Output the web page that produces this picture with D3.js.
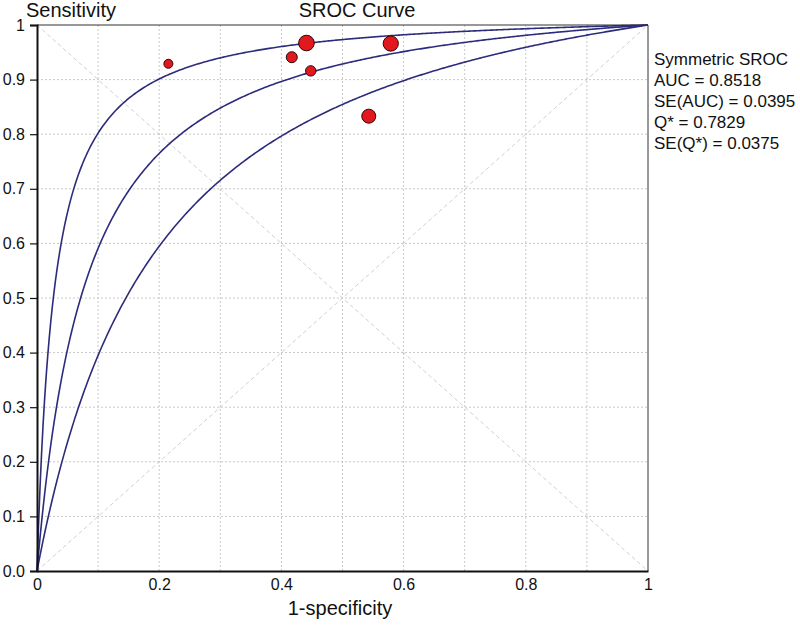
<!DOCTYPE html>
<html>
<head>
<meta charset="utf-8">
<script src="https://cdn.jsdelivr.net/npm/d3@7"></script>
<style>
  body { margin: 0; background: #fff; }
  text { font-family: "Liberation Sans", Arial, sans-serif; fill: #111; }
</style>
</head>
<body>
<div id="chart"></div>
<script>
// study points: 1-specificity, sensitivity, marker radius (study weight)
var fprVals = [0.215, 0.417, 0.441, 0.448, 0.579, 0.543];
var sensVals = [0.929, 0.941, 0.967, 0.916, 0.966, 0.833];
var weights = [4.5, 5.5, 7.8, 5.2, 7.6, 7.0];

// summary statistics printed on the right
var statLabels = ["Symmetric SROC", "AUC = 0.8518", "SE(AUC) = 0.0395", "Q* = 0.7829", "SE(Q*) = 0.0375"];
var qStar = 0.7829;
var seQ = 0.0375;
// curve levels: Q* - 2SE, Q*, Q* + 2SE
var qLevels = [qStar - 2 * seQ, qStar, qStar + 2 * seQ];

var gridTicks = [0, 0.1, 0.2, 0.3, 0.4, 0.5, 0.6, 0.7, 0.8, 0.9, 1];
var xTickVals = [0, 0.2, 0.4, 0.6, 0.8, 1];
var xTickLabels = ["0", "0.2", "0.4", "0.6", "0.8", "1"];
var yTickLabels = ["0.0", "0.1", "0.2", "0.3", "0.4", "0.5", "0.6", "0.7", "0.8", "0.9", "1"];

var svgWidth = 800;
var svgHeight = 625;
var margin = { top: 25, right: 152, bottom: 54, left: 37 };
var width = svgWidth - margin.left - margin.right;
var height = svgHeight - margin.top - margin.bottom;

var svg = d3.select("#chart")
  .append("svg")
  .attr("width", svgWidth)
  .attr("height", svgHeight);

var chartGroup = svg.append("g")
  .attr("transform", `translate(${margin.left}, ${margin.top})`);

var xScale = d3.scaleLinear().domain([0, 1]).range([0, width]);
var yScale = d3.scaleLinear().domain([0, 1]).range([height, 0]);

// dotted grid
chartGroup.append("g")
  .selectAll("line")
  .data(gridTicks.slice(1, -1))
  .enter()
  .append("line")
  .attr("x1", d => xScale(d))
  .attr("x2", d => xScale(d))
  .attr("y1", 0)
  .attr("y2", height)
  .attr("stroke", "#c8c8c8")
  .attr("stroke-dasharray", "2,2");

chartGroup.append("g")
  .selectAll("line")
  .data(gridTicks.slice(1, -1))
  .enter()
  .append("line")
  .attr("x1", 0)
  .attr("x2", width)
  .attr("y1", d => yScale(d))
  .attr("y2", d => yScale(d))
  .attr("stroke", "#c8c8c8")
  .attr("stroke-dasharray", "2,2");

// diagonals
chartGroup.append("line")
  .attr("x1", xScale(0)).attr("y1", yScale(1))
  .attr("x2", xScale(1)).attr("y2", yScale(0))
  .attr("stroke", "#d0d0d0")
  .attr("stroke-dasharray", "4,3");
chartGroup.append("line")
  .attr("x1", xScale(0)).attr("y1", yScale(0))
  .attr("x2", xScale(1)).attr("y2", yScale(1))
  .attr("stroke", "#d0d0d0")
  .attr("stroke-dasharray", "4,3");

// SROC curves  sens = 1 / (1 + 1 / (DOR * fpr / (1 - fpr)))
var fprGrid = d3.range(0, 1.0001, 0.0025);
var line = d3.line()
  .x(d => xScale(d[0]))
  .y(d => yScale(d[1]));

qLevels.forEach(function (q) {
  var dor = Math.pow(q / (1 - q), 2);
  var pts = fprGrid.map(function (f) {
    if (f <= 0) return [0, 0];
    if (f >= 1) return [1, 1];
    var odds = dor * f / (1 - f);
    return [f, odds / (1 + odds)];
  });
  chartGroup.append("path")
    .datum(pts)
    .attr("d", line)
    .attr("fill", "none")
    .attr("stroke", "#2c2b7c")
    .attr("stroke-width", 1.6);
});

// frame
chartGroup.append("line")
  .attr("x1", 0).attr("x2", width).attr("y1", 0).attr("y2", 0)
  .attr("stroke", "#333").attr("stroke-width", 1);
chartGroup.append("line")
  .attr("x1", width).attr("x2", width).attr("y1", 0).attr("y2", height)
  .attr("stroke", "#333").attr("stroke-width", 1);

// axes
var bottomAxis = d3.axisBottom(xScale)
  .tickValues(xTickVals)
  .tickFormat((d, i) => xTickLabels[i])
  .tickSize(0)
  .tickPadding(8);
var leftAxis = d3.axisLeft(yScale)
  .tickValues(gridTicks)
  .tickFormat((d, i) => yTickLabels[i])
  .tickSize(7)
  .tickPadding(5);

var xAxis = chartGroup.append("g")
  .attr("transform", `translate(0, ${height})`)
  .call(bottomAxis);
var yAxis = chartGroup.append("g")
  .call(leftAxis);

[xAxis, yAxis].forEach(function (ax) {
  ax.select(".domain").attr("stroke", "#111").attr("stroke-width", 2);
  ax.selectAll(".tick line").attr("stroke", "#111").attr("stroke-width", 1.2);
  ax.selectAll("text").style("font-size", "16px").attr("fill", "#111");
});

// study points
chartGroup.append("g")
  .selectAll("circle")
  .data(fprVals)
  .enter()
  .append("circle")
  .attr("cx", d => xScale(d))
  .attr("cy", (d, i) => yScale(sensVals[i]))
  .attr("r", (d, i) => weights[i])
  .attr("fill", "#e3181f")
  .attr("stroke", "#2a0808")
  .attr("stroke-width", 1);

// titles
svg.append("text")
  .attr("x", 26)
  .attr("y", 17)
  .style("font-size", "20px")
  .text("Sensitivity");

svg.append("text")
  .attr("x", 357)
  .attr("y", 17)
  .attr("text-anchor", "middle")
  .style("font-size", "20px")
  .text("SROC Curve");

svg.append("text")
  .attr("x", 340)
  .attr("y", 615)
  .attr("text-anchor", "middle")
  .style("font-size", "20px")
  .text("1-specificity");

// stats block
svg.append("g")
  .selectAll("text")
  .data(statLabels)
  .enter()
  .append("text")
  .attr("x", 654)
  .attr("y", (d, i) => 65 + i * 21)
  .style("font-size", "17px")
  .text(d => d);
</script>
</body>
</html>
